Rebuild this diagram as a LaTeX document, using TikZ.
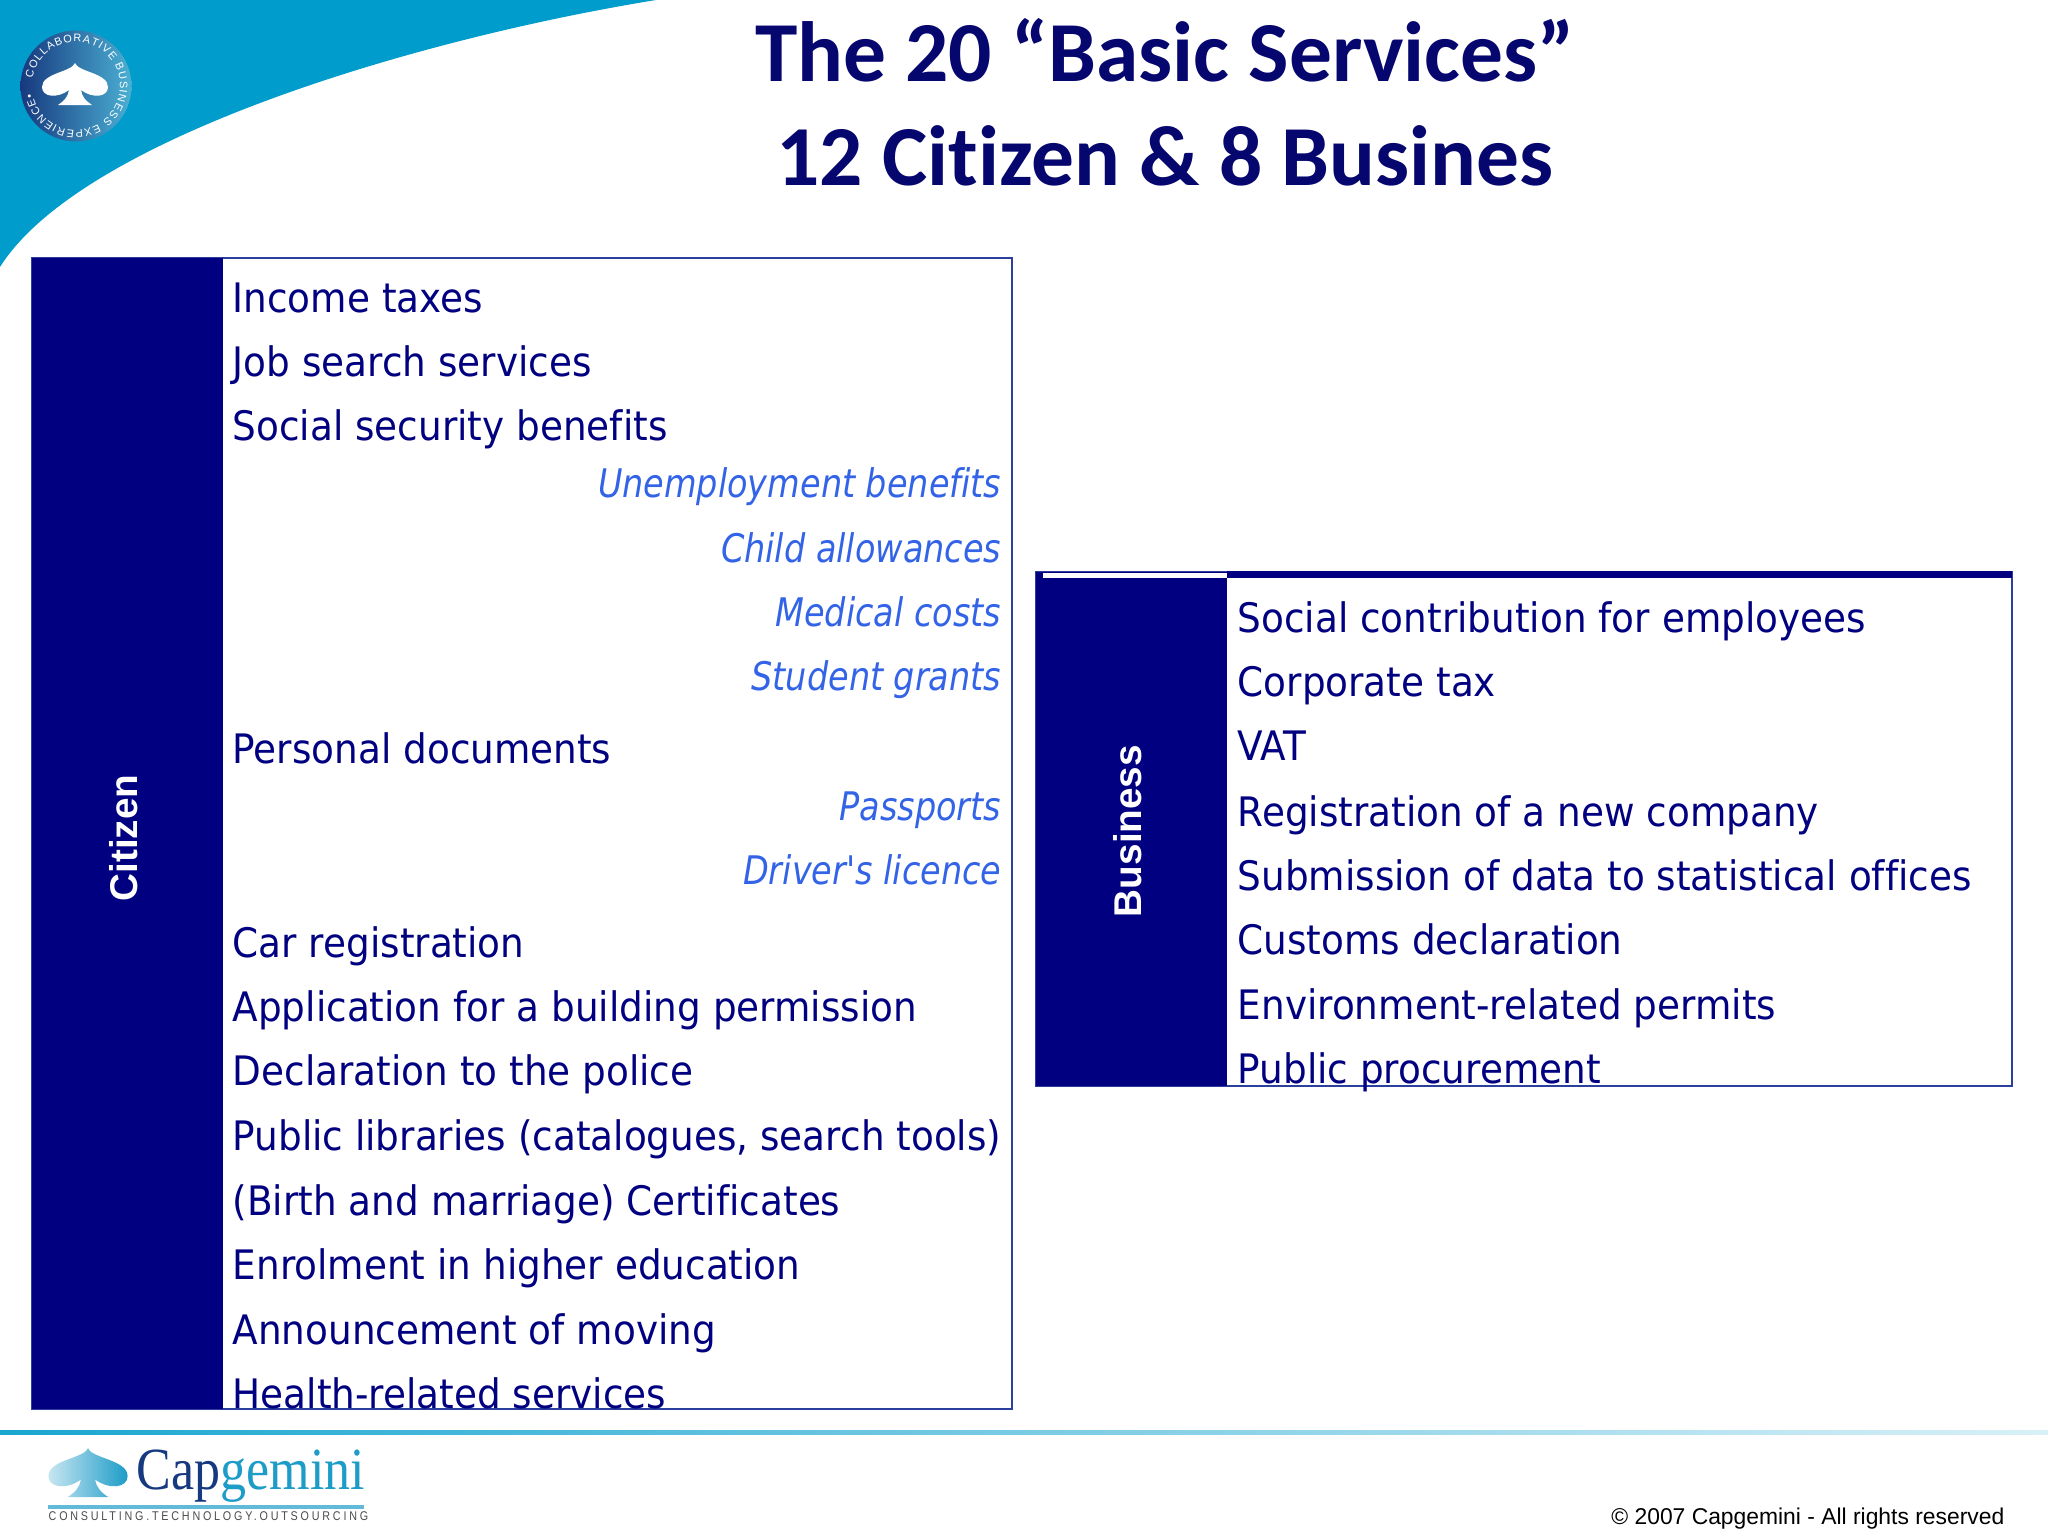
\documentclass[tikz,border=0pt]{standalone}
\usepackage{fontspec}
\setmainfont{Liberation Sans}
\newfontfamily\titlefont[RawFeature=-liga]{Carlito}
\newfontfamily\bodyfont[FakeStretch=0.92, RawFeature=-liga]{DejaVu Sans}
\newfontfamily\subfont[FakeStretch=0.85, RawFeature=-liga]{DejaVu Sans}
\newfontfamily\logofont[FakeStretch=0.87]{Liberation Serif}
\newfontfamily\tagfont[FakeStretch=0.85, LetterSpace=22]{Liberation Sans}
\usetikzlibrary{decorations.text}
\definecolor{swoosh}{HTML}{009CCB}
\definecolor{titlenavy}{HTML}{06066F}
\definecolor{panelnavy}{HTML}{000080}
\definecolor{panelline}{HTML}{2A3F9E}
\definecolor{subitem}{HTML}{3363E6}
\definecolor{capdark}{HTML}{17397F}
\definecolor{caplight}{HTML}{1E9CC8}
\tikzset{
    titleline/.style={anchor=base, inner sep=0pt, text=titlenavy, font=\titlefont\bfseries\fontsize{24.3}{24}\selectfont},
    item/.style={anchor=base west, inner sep=0pt, text=panelnavy, font=\bodyfont\fontsize{11.55}{11}\selectfont},
    subi/.style={anchor=base east, inner sep=0pt, text=subitem, font=\subfont\itshape\fontsize{11.2}{11}\selectfont},
    sidelabel/.style={rotate=90, inner sep=0pt, text=white, font=\bfseries\fontsize{11}{11}\selectfont},
    spade/.pic={
        \path [pic actions] (0, 0) .. controls (3, 9) and (33, 10) .. (33, 24)
            .. controls (33, 34) and (18, 36) .. (6, 27)
            .. controls (7, 34) and (11, 38) .. (17, 42) -- (-17, 42)
            .. controls (-11, 38) and (-7, 34) .. (-6, 27)
            .. controls (-18, 36) and (-33, 34) .. (-33, 24)
            .. controls (-33, 10) and (-3, 9) .. (0, 0) -- cycle;
    }
}
\begin{document}
\begin{tikzpicture}[x=0.01cm, y=-0.01cm]
    \useasboundingbox (0, 0) rectangle (2048, 1536);
    \fill [swoosh] (0, 0) -- (656, 0) .. controls (410, 40) and (80, 140) .. (0, 267) -- cycle;
    \shade [left color=capdark, right color=caplight!80!white] (76, 86) circle [radius=55.5];
    \path [decorate, decoration={text along path, text align=fit to path,
        text={|\fontsize{3.1}{4}\selectfont\color{white}|COLLABORATIVE BUSINESS EXPERIENCE•}}]
        (76, 86) ++(190:44) arc [start angle=190, end angle=530, radius=44];
    \pic [fill=white] at (75, 63) {spade};

    \node [titleline] (title1) at (1165, 81) {The 20 “Basic Services”};
    \node [titleline] (title2) at (1165, 185) {12 Citizen \& 8 Busines};

    \draw [panelline, thick] (32, 258) rectangle (1012, 1409);
    \fill [panelnavy] (32, 258) rectangle (223, 1409);
    \node [sidelabel] (citizen) at (124, 838) {Citizen};

    \node [item] (income) at (232, 312.5) {Income taxes};
    \node [item] (job) at (232, 376.5) {Job search services};
    \node [item] (social) at (232, 440.5) {Social security benefits};
    \node [subi] (unemployment) at (1002, 497.5) {Unemployment benefits};
    \node [subi] (child) at (1002, 562) {Child allowances};
    \node [subi] (medical) at (1002, 626) {Medical costs};
    \node [subi] (student) at (1002, 690) {Student grants};
    \node [item] (personal) at (232, 763) {Personal documents};
    \node [subi] (passports) at (1002, 820) {Passports};
    \node [subi] (driver) at (1002, 884) {Driver's licence};
    \node [item] (car) at (232, 957.5) {Car registration};
    \node [item] (building) at (232, 1021.5) {Application for a building permission};
    \node [item] (police) at (232, 1085.5) {Declaration to the police};
    \node [item] (libraries) at (232, 1150) {Public libraries (catalogues, search tools)};
    \node [item] (certificates) at (232, 1215) {(Birth and marriage) Certificates};
    \node [item] (enrolment) at (232, 1279) {Enrolment in higher education};
    \node [item] (moving) at (232, 1344) {Announcement of moving};
    \node [item] (health) at (232, 1408) {Health-related services};

    \draw [panelline, thick] (1036, 572) rectangle (2012, 1086);
    \fill [panelnavy] (1036, 572) rectangle (1227, 1086);
    \fill [panelnavy] (1227, 571) rectangle (2012, 578);
    \fill [white] (1043, 573) rectangle (1227, 578);
    \node [sidelabel] (business) at (1128, 831) {Business};

    \node [item] (contribution) at (1237, 632.5) {Social contribution for employees};
    \node [item] (corporate) at (1237, 696.5) {Corporate tax};
    \node [item] (vat) at (1237, 760.5) {VAT};
    \node [item] (registration) at (1237, 826) {Registration of a new company};
    \node [item] (submission) at (1237, 890) {Submission of data to statistical offices};
    \node [item] (customs) at (1237, 954) {Customs declaration};
    \node [item] (environment) at (1237, 1019) {Environment-related permits};
    \node [item] (procurement) at (1237, 1083) {Public procurement};

    \shade [left color=swoosh!90!white, right color=swoosh!15!white] (0, 1430) rectangle (2048, 1434.5);
    \pic [xscale=1.2, yscale=1.17, left color=caplight!25!white, right color=caplight] at (88, 1448) {spade};
    \node [anchor=base west, inner sep=0pt, font=\logofont\fontsize{17}{17}\selectfont] (capgemini) at (136, 1489)
        {\textcolor{capdark}{Cap}\textcolor{caplight}{gemini}};
    \draw [caplight!70!white, line width=1pt] (48, 1507) -- (364, 1507);
    \node [anchor=base west, inner sep=0pt, text=black!70, font=\tagfont\fontsize{3.6}{4}\selectfont] (tagline) at (48, 1520)
        {CONSULTING.TECHNOLOGY.OUTSOURCING};
    \node [anchor=base east, inner sep=0pt, font=\fontsize{6.5}{7}\selectfont] (copyright) at (2005, 1524)
        {© 2007 Capgemini - All rights reserved};
\end{tikzpicture}
\end{document}
